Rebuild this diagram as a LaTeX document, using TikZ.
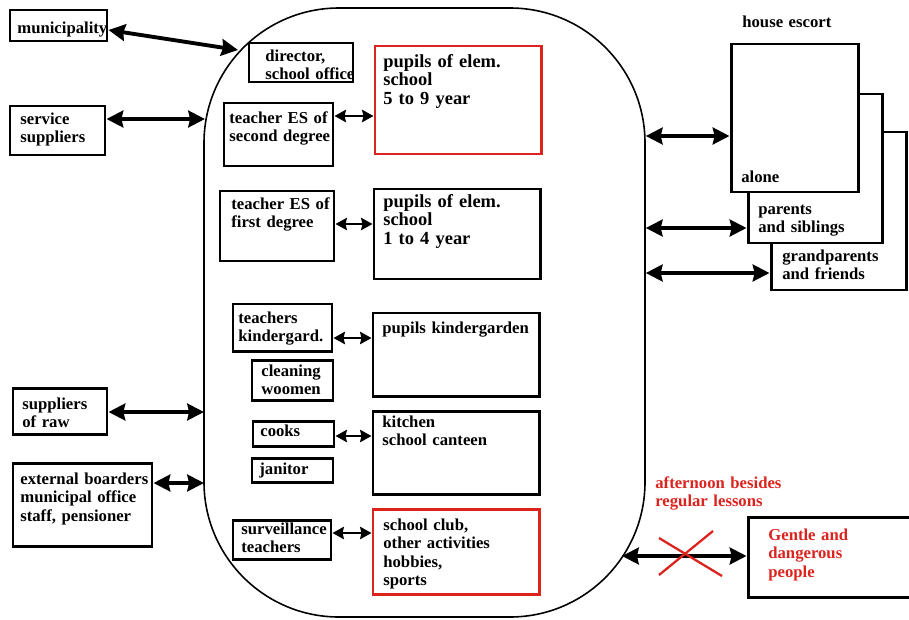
\documentclass[tikz,border=0pt]{standalone}
\usepackage{fontspec}
\setmainfont{Liberation Serif}
\usetikzlibrary{positioning,arrows.meta,fit}
\definecolor{alarmred}{RGB}{220,36,31}
\tikzset{
  frm/.style={draw,line width=1.7pt,fill=white,inner sep=0pt},
  rfrm/.style={frm,draw=alarmred},
  lab/.style={anchor=base west,inner sep=0pt,text width=4cm,align=left,font=\fontsize{9.5}{10.6}\selectfont\bfseries},
  blab/.style={lab,font=\fontsize{10.5}{10.6}\selectfont\bfseries},
  rlab/.style={lab,text=alarmred},
  bigarr/.style={{Stealth[length=9.5pt,width=9.5pt,inset=1pt]}-{Stealth[length=9.5pt,width=9.5pt,inset=1pt]},line width=2.2pt},
  smlarr/.style={{Stealth[length=6.5pt,width=7pt,inset=.8pt]}-{Stealth[length=6.5pt,width=7pt,inset=.8pt]},line width=1.6pt},
  cross/.style={alarmred,line width=1.3pt}
}
\begin{document}
\begin{tikzpicture}[x=0.02cm,y=-0.02cm]
  \useasboundingbox (0,0) rectangle (909,619);
  \node[draw,line width=.9pt,rounded corners=2.7cm,inner sep=0pt,fit={(204,8) (645,617)}] (school) {};
  \coordinate (s-muni) at (238,50);
  \coordinate (s-serv) at (205,119);
  \coordinate (s-raw) at (204,412);
  \coordinate (s-ext) at (204,483);
  \coordinate (s-gent) at (622,556);

  \node[frm,fit={(10,10) (107,41)}] (muni) {};
  \node[lab] (muni-t) at (17,33) {municipality};
  \node[frm,fit={(10,106) (105,155)}] (serv) {};
  \node[lab] (serv-t) at (20,124) {service\\suppliers};
  \node[frm,fit={(13,388) (107,434)}] (raw) {};
  \node[lab] (raw-t) at (22,409) {suppliers\\of raw};
  \node[frm,fit={(13,463) (152,546)}] (ext) {};
  \node[lab] (ext-t) at (20,484) {external boarders\\municipal office\\staff, pensioner};

  \node[frm,fit={(249,43) (353,82)}] (dir) {};
  \node[lab] (dir-t) at (265,61) {director,\\school office};
  \node[frm,fit={(224,103) (333,166)}] (tes2) {};
  \node[lab] (tes2-t) at (229,123) {teacher ES of\\second degree};
  \node[rfrm,fit={(375,46) (541,154)}] (pup59) {};
  \node[blab] (pup59-t) at (383,67) {pupils of elem.\\school\\5 to 9 year};
  \node[frm,fit={(220,191) (334,261)}] (tes1) {};
  \node[lab] (tes1-t) at (231,209) {teacher ES of\\first degree};
  \node[frm,fit={(374,189) (540,279)}] (pup14) {};
  \node[blab] (pup14-t) at (383,207) {pupils of elem.\\school\\1 to 4 year};
  \node[frm,fit={(233,304) (332,351)}] (tkg) {};
  \node[lab] (tkg-t) at (238,323) {teachers\\kindergard.};
  \node[frm,fit={(252,360) (333,400)}] (clean) {};
  \node[lab] (clean-t) at (261,376) {cleaning\\woomen};
  \node[frm,fit={(373,313) (539,396)}] (pkg) {};
  \node[lab] (pkg-t) at (382,333) {pupils kindergarden};
  \node[frm,fit={(253,421) (334,446)}] (cook) {};
  \node[lab] (cook-t) at (260,436) {cooks};
  \node[frm,fit={(373,411) (539,494)}] (kitch) {};
  \node[lab] (kitch-t) at (382,427) {kitchen\\school canteen};
  \node[frm,fit={(252,458) (333,482)}] (jan) {};
  \node[lab] (jan-t) at (259,474) {janitor};
  \node[frm,fit={(233,520) (331,559)}] (surv) {};
  \node[lab] (surv-t) at (241,534) {surveillance\\teachers};
  \node[rfrm,fit={(373,509) (539,594)}] (club) {};
  \node[lab] (club-t) at (383,530) {school club,\\other activities\\hobbies,\\sports};

  \node[lab] (escort) at (742,27) {house escort};
  \node[frm,fit={(771,132) (906,290)}] (grand) {};
  \node[lab] (grand-t) at (782,261) {grandparents\\and friends};
  \node[frm,fit={(748,94) (882,243)}] (parent) {};
  \node[lab] (parent-t) at (758,214) {parents\\and siblings};
  \node[frm,fit={(731,44) (858,192)}] (alone) {};
  \node[lab] (alone-t) at (741,182) {alone};

  \node[rlab] (after) at (655,488) {afternoon besides\\regular lessons};
  \node[frm,fit={(748,517) (930,597)}] (gentle) {};
  \node[rlab] (gentle-t) at (768,540) {Gentle and\\dangerous\\people};

  \draw[bigarr] (muni.east |- 0,30) -- (s-muni);
  \draw[bigarr] (serv.east |- s-serv) -- (s-serv);
  \draw[bigarr] (raw.east |- s-raw) -- (s-raw);
  \draw[bigarr] (ext.east |- s-ext) -- (s-ext);
  \draw[smlarr] (tes2.east |- 0,116) -- (pup59.west |- 0,116);
  \draw[smlarr] (tes1.east |- 0,224) -- (pup14.west |- 0,224);
  \draw[smlarr] (tkg.east |- 0,338) -- (pkg.west |- 0,338);
  \draw[smlarr] (cook.east |- 0,436) -- (kitch.west |- 0,436);
  \draw[smlarr] (surv.east |- 0,533) -- (club.west |- 0,533);
  \draw[bigarr] (school.east |- 0,136) -- (alone.west |- 0,136);
  \draw[bigarr] (school.east |- 0,228) -- (parent.west |- 0,228);
  \draw[bigarr] (school.east |- 0,273) -- (grand.west |- 0,273);
  \draw[bigarr] (s-gent) -- (gentle.west |- s-gent);
  \draw[cross] (659,538) -- (722,576) (713,531) -- (659,575);
\end{tikzpicture}
\end{document}
